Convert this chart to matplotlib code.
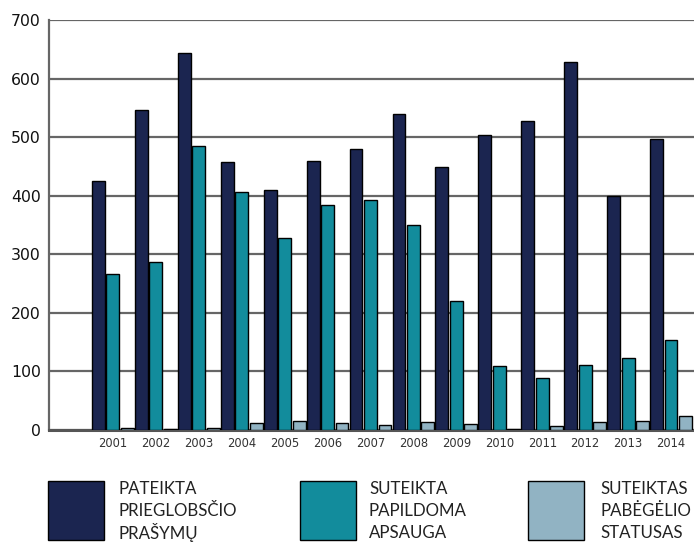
import matplotlib.pyplot as plt
import numpy as np
from matplotlib.patches import Rectangle

# data
years = ["2001", "2002", "2003", "2004", "2005", "2006", "2007",
         "2008", "2009", "2010", "2011", "2012", "2013", "2014"]
applications = [425, 546, 644, 458, 410, 459, 480, 540, 449, 503, 527, 628, 399, 496]
subsidiary = [266, 287, 485, 407, 328, 385, 393, 350, 221, 110, 88, 111, 123, 153]
refugee = [3, 1, 3, 12, 15, 12, 8, 14, 11, 1, 7, 13, 15, 24]

labels = [["PATEIKTA", "PRIEGLOBSČIO", "PRAŠYMŲ"],
          ["SUTEIKTA", "PAPILDOMA", "APSAUGA"],
          ["SUTEIKTAS", "PABĖGĖLIO", "STATUSAS"]]
colors = ["#1b2550", "#128c9c", "#91b3c3"]

W, H = 694, 544
fig = plt.figure(figsize=(W / 100, H / 100), dpi=100)
ax = fig.add_axes([49 / W, 1 - 430 / H, 1 - 49 / W, 410 / H])

x = np.arange(len(years))
bw = 0.30
off = 0.337
for vals, dx, c in zip([applications, subsidiary, refugee], [-off, 0, off], colors):
    ax.bar(x + dx, vals, width=bw, color=c, edgecolor="black", linewidth=1, zorder=3)

ax.set_xlim(-1.488, 13.535)
ax.set_ylim(0, 700)
ax.set_yticks(range(0, 701, 100))
ax.yaxis.grid(True, color="#666666", linewidth=1.6, zorder=0)
ax.set_axisbelow(True)

ax.set_xticks(x)
ax.set_xticklabels(years, fontsize=8.3, color="#333333")
ax.tick_params(axis="x", length=0, pad=5)
ax.tick_params(axis="y", length=0, pad=6, labelsize=11.3, labelcolor="#111111")

for s in ["top", "right"]:
    ax.spines[s].set_visible(False)
ax.spines["left"].set_color("#666666")
ax.spines["left"].set_linewidth(1.6)
ax.spines["bottom"].set_color("#555555")
ax.spines["bottom"].set_linewidth(2.2)

# legend drawn by hand below the plot
box_x = [48, 300, 528]
text_x = [118, 369, 600]
for bx, tx, c, lab in zip(box_x, text_x, colors, labels):
    fig.add_artist(Rectangle((bx / W, 1 - 540 / H), 56 / W, 59 / H,
                             transform=fig.transFigure, facecolor=c,
                             edgecolor="black", linewidth=1))
    for k, line in enumerate(lab):
        fig.text(tx / W, 1 - (489 + 22 * k) / H, line, fontsize=12.2,
                 family="Lato", color="#222222", va="center", ha="left")

fig.savefig("out.png", dpi=100)
